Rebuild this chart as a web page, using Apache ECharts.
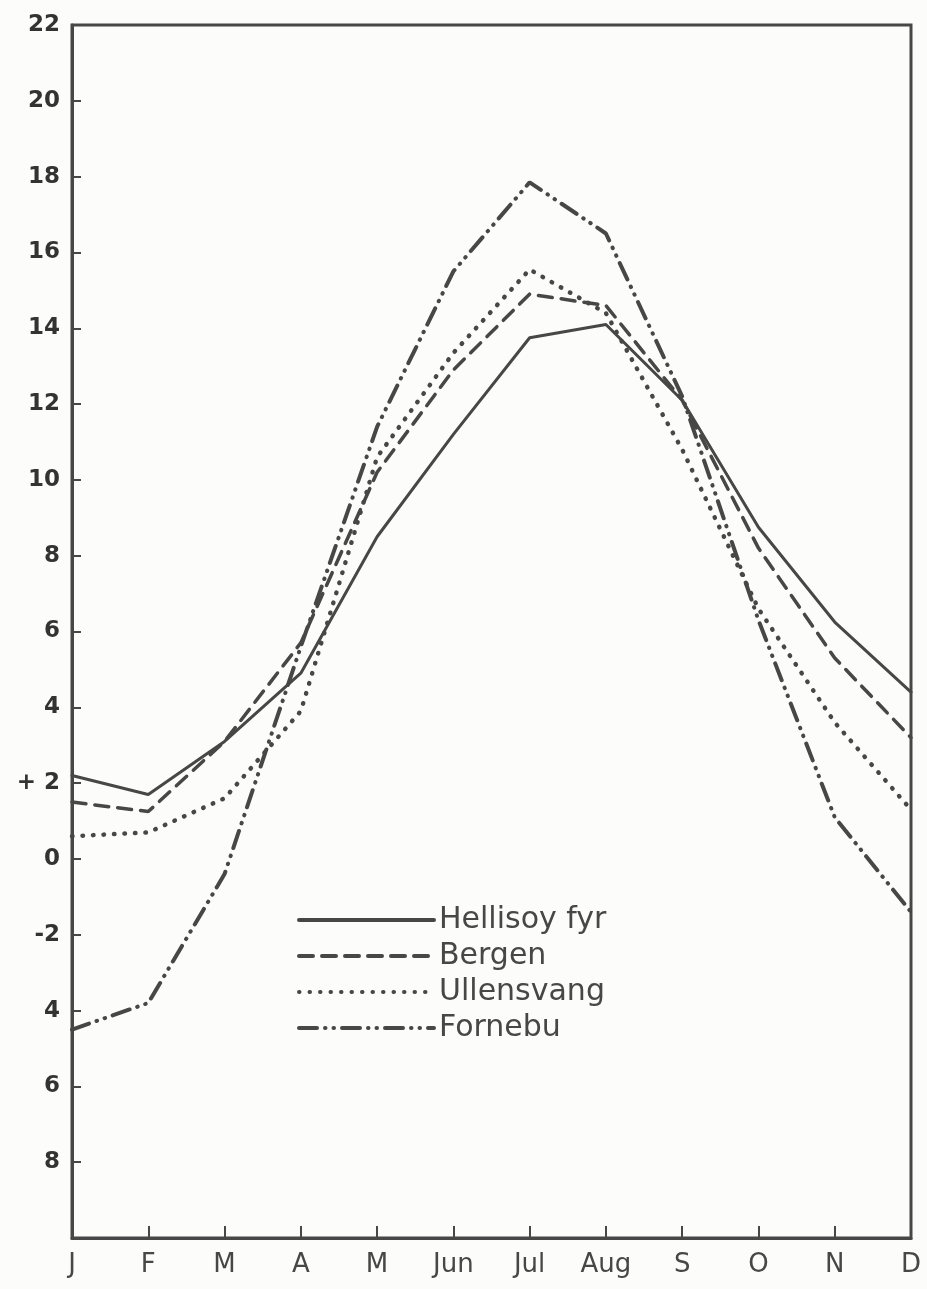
<!DOCTYPE html>
<html>
<head>
<meta charset="utf-8">
<script src="https://cdn.jsdelivr.net/npm/echarts@6/dist/echarts.min.js"></script>
<style>
  html, body { margin: 0; padding: 0; background: #fcfcfa; }
  #chart { width: 927px; height: 1289px; }
</style>
</head>
<body>
<div id="chart"></div>
<script>
// monthly mean temperature
const months = ['J', 'F', 'M', 'A', 'M', 'Jun', 'Jul', 'Aug', 'S', 'O', 'N', 'D'];
const hellisoy = [2.2, 1.7, 3.1, 4.9, 8.5, 11.2, 13.75, 14.1, 12.1, 8.75, 6.25, 4.4];
const bergen = [1.5, 1.25, 3.1, 5.7, 10.2, 12.9, 14.9, 14.6, 12.1, 8.2, 5.3, 3.2];
const ullensvang = [0.6, 0.7, 1.6, 3.9, 10.6, 13.35, 15.55, 14.4, 10.8, 6.6, 3.6, 1.3];
const fornebu = [-4.5, -3.8, -0.4, 5.6, 11.4, 15.5, 17.85, 16.5, 12.2, 6.3, 1.1, -1.4];

// y tick values and the labels as written on the original
const yTicks = [-10, -8, -6, -4, -2, 0, 2, 4, 6, 8, 10, 12, 14, 16, 18, 20, 22];
const yTickLabels = ['', '8', '6', '4', '-2', '0', '+ 2', '4', '6', '8', '10', '12', '14', '16', '18', '20', '22'];

const ink = '#474747';
const chart = echarts.init(document.getElementById('chart'));

function line(name, data, dash, w) {
  return {
    name: name,
    type: 'line',
    data: data,
    symbol: 'none',
    silent: true,
    lineStyle: { color: ink, width: w, type: dash, cap: 'round' },
    itemStyle: { color: ink }
  };
}

chart.setOption({
  animation: false,
  backgroundColor: '#fcfcfa',
  grid: {
    left: 72, right: 16, top: 25, bottom: 51,
    show: true, borderColor: ink, borderWidth: 3
  },
  legend: {
    orient: 'vertical',
    left: 297, top: 905,
    itemWidth: 135, itemHeight: 14,
    itemGap: 6,
    padding: 0,
    itemStyle: { opacity: 0 },
    lineStyle: { width: 4, cap: 'round' },
    textStyle: { color: ink, fontSize: 30, fontFamily: 'DejaVu Sans', lineHeight: 30 },
    data: ['Hellisoy fyr', 'Bergen', 'Ullensvang', 'Fornebu']
  },
  xAxis: {
    type: 'category',
    data: months,
    boundaryGap: false,
    axisLine: { onZero: false, lineStyle: { color: ink, width: 3 } },
    axisTick: { inside: true, length: 12, lineStyle: { color: ink, width: 2 } },
    axisLabel: { color: ink, fontSize: 26, fontFamily: 'DejaVu Sans', margin: 14 },
    splitLine: { show: false }
  },
  yAxis: {
    type: 'value',
    min: -10, max: 22, interval: 2,
    axisLine: { show: true, lineStyle: { color: ink, width: 3 } },
    axisTick: { show: true, inside: true, length: 9, lineStyle: { color: ink, width: 2 } },
    axisLabel: {
      color: '#333', fontSize: 23, fontWeight: 'bold', fontFamily: 'DejaVu Sans', margin: 12,
      formatter: function (v) {
        const i = yTicks.indexOf(v);
        return i >= 0 ? yTickLabels[i] : '';
      }
    },
    splitLine: { show: false }
  },
  series: [
    line('Hellisoy fyr', hellisoy, 'solid', 3),
    line('Bergen', bergen, [14, 9], 3.5),
    line('Ullensvang', ullensvang, [0.5, 10], 4.5),
    line('Fornebu', fornebu, [18, 8, 0.5, 8, 0.5, 8], 4)
  ]
});
</script>
</body>
</html>
